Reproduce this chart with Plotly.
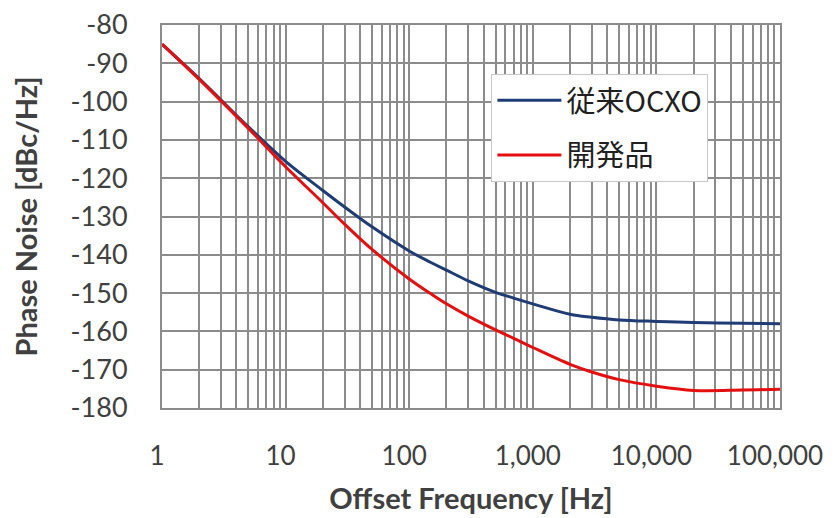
import plotly.graph_objects as go

freq = [1, 2, 5, 10, 20, 30, 50, 100, 150, 200, 300, 500, 700, 1000, 2000,
        3000, 5000, 10000, 20000, 50000, 100000]
conventional_ocxo = [-85, -94.0, -106.6, -115.6, -123.2, -127.5, -132.7, -139.0,
                     -142.0, -144.0, -146.8, -149.8, -151.3, -152.8, -155.5,
                     -156.3, -157.0, -157.4, -157.7, -157.9, -158.0]
developed = [-85, -94.2, -107.0, -117.0, -126.4, -132.0, -138.6, -146.3,
             -150.2, -152.8, -156.0, -159.6, -161.8, -164.2, -168.6,
             -170.6, -172.6, -174.3, -175.4, -175.3, -175.1]

series_names = ["従来OCXO", "開発品"]
x_tick_vals = [1, 10, 100, 1000, 10000, 100000]
x_tick_text = ["1", "10", "100", "1,000", "10,000", "100,000"]
x_minor_vals = [m * d for d in [1, 10, 100, 1000, 10000] for m in range(2, 10)]
y_tick_vals = list(range(-180, -79, 10))
y_tick_text = [str(v) for v in y_tick_vals]

grid_color = "#8c8c8c"
font_family = "Lato, 'Open Sans', 'Noto Sans CJK JP', sans-serif"
text_color = "#404040"

fig = go.Figure()
fig.add_trace(go.Scatter(x=freq, y=conventional_ocxo, mode="lines",
                         name=series_names[0], legendgroup="a",
                         line=dict(color="#203c74", width=3, shape="spline")))
fig.add_trace(go.Scatter(x=freq, y=developed, mode="lines",
                         name=series_names[1], legendgroup="b",
                         line=dict(color="#e31010", width=3, shape="spline")))

fig.update_layout(
    width=827, height=510,
    margin=dict(l=154, r=55, t=17, b=110, autoexpand=False),
    paper_bgcolor="white", plot_bgcolor="white",
    font=dict(family=font_family, color=text_color),
    legend=dict(x=0.533, y=0.872, xanchor="left", yanchor="top",
                bgcolor="white", bordercolor="#c8c8c8", borderwidth=1,
                itemwidth=64,
                font=dict(size=29, color="#202020",
                          family="'Noto Sans CJK JP', 'Open Sans', sans-serif"),
                traceorder="grouped", tracegroupgap=14),
)
fig.update_xaxes(
    type="log", range=[0, 5], automargin=False,
    tickmode="array", tickvals=x_tick_vals, ticktext=x_tick_text,
    tickfont=dict(size=26, color=text_color), ticks="", ticklabelstandoff=24,
    ticklabelshift=-5, ticklabeloverflow="allow",
    showgrid=True, gridcolor=grid_color, gridwidth=2,
    minor=dict(tickmode="array", tickvals=x_minor_vals, showgrid=True,
               gridcolor=grid_color, gridwidth=2, ticks=""),
    showline=True, linecolor=grid_color, linewidth=2, mirror=True,
    title=dict(text="<b>Offset Frequency [Hz]</b>", standoff=18,
               font=dict(size=29, color=text_color)),
    zeroline=False,
)
fig.update_yaxes(
    range=[-180, -80], automargin=False,
    tickmode="array", tickvals=y_tick_vals, ticktext=y_tick_text,
    tickfont=dict(size=27, color=text_color), ticks="", ticklabelstandoff=27,
    ticklabeloverflow="allow",
    showgrid=True, gridcolor=grid_color, gridwidth=2,
    showline=True, linecolor=grid_color, linewidth=2, mirror=True,
    title=dict(text="<b>Phase Noise [dBc/Hz]</b>", standoff=40,
               font=dict(size=29, color=text_color)),
    zeroline=False,
)

fig.write_html("out.html")
